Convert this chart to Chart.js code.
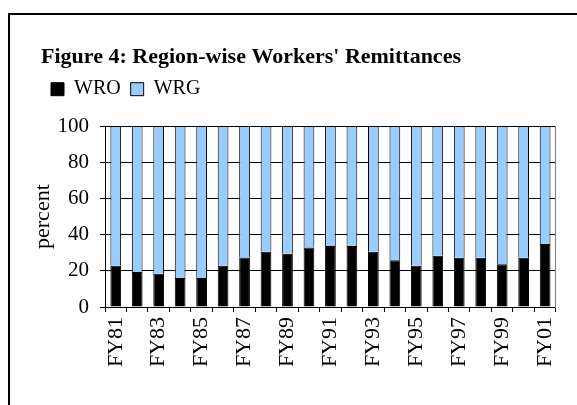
<!DOCTYPE html>
<html>
<head>
<meta charset="utf-8">
<script src="https://cdn.jsdelivr.net/npm/chart.js@4.4.0/dist/chart.umd.min.js"></script>
<style>
  html, body { margin: 0; padding: 0; background: #fff; overflow: hidden; }
  #frame { position: absolute; left: 8px; top: 13px; width: 700px; height: 500px;
           border-left: 2px solid #000; border-top: 2px solid #000; }
  #wrap { position: absolute; left: 0; top: 0; width: 577px; height: 405px; }
</style>
</head>
<body>
<div id="frame"></div>
<div id="wrap"><canvas id="c" width="577" height="405"></canvas></div>
<script>
const categories = ['FY81','FY82','FY83','FY84','FY85','FY86','FY87','FY88','FY89','FY90',
                    'FY91','FY92','FY93','FY94','FY95','FY96','FY97','FY98','FY99','FY00','FY01'];
const wro = [22.8, 19.3, 18.4, 16.0, 16.0, 22.8, 27.4, 30.5, 29.4, 32.9,
             33.8, 33.8, 30.5, 25.9, 22.8, 28.3, 27.2, 27.2, 23.7, 27.2, 34.9];
const wrg = [77.2, 80.7, 81.6, 84.0, 84.0, 77.2, 72.6, 69.5, 70.6, 67.1,
             66.2, 66.2, 69.5, 74.1, 77.2, 71.7, 72.8, 72.8, 76.3, 72.8, 65.1];
const yTicks = [0, 20, 40, 60, 80, 100];

const FONT = 'Liberation Serif, Times New Roman, serif';

new Chart(document.getElementById('c'), {
  type: 'bar',
  data: {
    labels: categories,
    datasets: [
      { label: 'WRO', data: wro, backgroundColor: '#000000', borderColor: '#000000', borderWidth: 1 },
      { label: 'WRG', data: wrg, backgroundColor: '#99CCFF', borderColor: '#000000', borderWidth: 1 }
    ]
  },
  options: {
    responsive: false,
    animation: false,
    devicePixelRatio: 1,
    layout: { padding: { left: 41, right: 20, top: 0, bottom: 0 } },
    datasets: { bar: { barPercentage: 0.5, categoryPercentage: 1.0 } },
    plugins: {
      title: {
        display: true, text: "Figure 4: Region-wise Workers' Remittances",
        align: 'start', color: '#000',
        font: { family: FONT, size: 22, weight: 'bold', lineHeight: 1.1 },
        padding: { top: 45, bottom: 0 }
      },
      subtitle: {
        display: true, text: '', weight: 500,
        font: { family: FONT, size: 17, lineHeight: 1 },
        padding: { top: 0, bottom: 0 }
      },
      legend: {
        display: true, align: 'start',
        labels: {
          color: '#000', boxWidth: 13, boxHeight: 13, padding: 10,
          font: { family: FONT, size: 20 }
        }
      },
      tooltip: { enabled: false }
    },
    scales: {
      x: {
        stacked: true,
        grid: { display: true, drawOnChartArea: false, drawTicks: true, tickLength: 5, color: '#000', offset: true },
        border: { display: true, color: '#000', width: 1 },
        ticks: {
          autoSkip: false, minRotation: 90, maxRotation: 90, padding: 5, color: '#000',
          font: { family: FONT, size: 22 },
          callback: function(v, i) { return i % 2 === 0 ? categories[i] : ''; }
        },
        afterFit: function(s) { s.height = 98; }
      },
      y: {
        stacked: true, min: 0, max: 100,
        afterBuildTicks: function(s) { s.ticks = yTicks.map(v => ({ value: v })); },
        grid: { color: '#000', lineWidth: 1, drawTicks: true, tickLength: 5 },
        border: { display: true, color: '#000', width: 1 },
        ticks: { color: '#000', padding: 11, font: { family: FONT, size: 21 } },
        title: {
          display: true, text: 'percent', color: '#000',
          font: { family: FONT, size: 22, lineHeight: 0.2 },
          padding: { top: 0, bottom: 0 }
        },
        afterFit: function(s) { s.width = 64; }
      },
      y2: {
        position: 'right', display: true,
        grid: { drawOnChartArea: false, drawTicks: false },
        border: { display: true, color: '#808080', width: 1 },
        ticks: { display: false },
        afterFit: function(s) { s.width = 0; }
      }
    }
  }
});
</script>
</body>
</html>
